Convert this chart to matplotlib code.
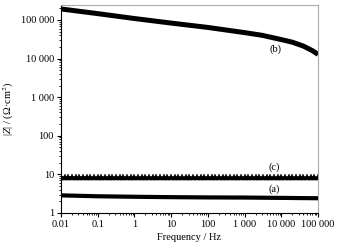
import numpy as np
import matplotlib
matplotlib.use("Agg")
import matplotlib.pyplot as plt
from matplotlib.ticker import FixedLocator, LogLocator, NullFormatter

plt.rcParams["font.family"] = ["Liberation Serif", "DejaVu Serif"]
plt.rcParams["mathtext.fontset"] = "stix"

# curve (b)
freq_b = [0.01, 0.1, 1, 10, 100, 1000, 3000, 10000, 20000, 40000, 70000, 100000]
z_b = [193000, 146000, 109000, 83000, 64000, 47000, 40000, 31000, 26500, 21000, 16000, 12800]

# curve (a)
freq_a = [0.01, 0.1, 1, 10, 100, 1000, 10000, 100000]
z_a = [2.85, 2.7, 2.62, 2.56, 2.52, 2.5, 2.45, 2.4]

# curve (c): 10 points per decade
freq_c = np.logspace(-2, 5, 71)
z_c = [8.4, 8.4, 8.4, 8.4, 8.35, 8.35, 8.35, 8.35, 8.3, 8.3,
       8.3, 8.3, 8.3, 8.3, 8.3, 8.3, 8.3, 8.3, 8.3, 8.3,
       8.3, 8.3, 8.3, 8.3, 8.3, 8.3, 8.3, 8.3, 8.3, 8.3,
       8.3, 8.3, 8.3, 8.3, 8.3, 8.3, 8.3, 8.3, 8.3, 8.3,
       8.3, 8.3, 8.3, 8.3, 8.3, 8.3, 8.3, 8.3, 8.3, 8.3,
       8.3, 8.3, 8.3, 8.3, 8.3, 8.3, 8.3, 8.3, 8.3, 8.3,
       8.3, 8.3, 8.3, 8.3, 8.3, 8.3, 8.3, 8.3, 8.3, 8.3,
       8.3]

x_ticks = [0.01, 0.1, 1, 10, 100, 1000, 10000, 100000]
x_labels = ["0.01", "0.1", "1", "10", "100", "1 000", "10 000", "100 000"]
y_ticks = [1, 10, 100, 1000, 10000, 100000]
y_labels = ["1", "10", "100", "1 000", "10 000", "100 000"]

fig = plt.figure(figsize=(3.48, 2.47), dpi=100)
ax = fig.add_axes([0.175, 0.138, 0.739, 0.842])

ax.plot(freq_b, z_b, color="black", lw=3.6, solid_capstyle="butt",
        solid_joinstyle="round")
ax.plot(freq_a, z_a, color="black", lw=3.0, solid_capstyle="butt")
ax.plot(freq_c, z_c, color="black", lw=1.6, marker="^", ms=3.8,
        markeredgewidth=0.3)

ax.set_xscale("log")
ax.set_yscale("log")
ax.set_xlim(0.01, 100000)
ax.set_ylim(1, 2.45e5)

ax.xaxis.set_major_locator(FixedLocator(x_ticks))
ax.set_xticklabels(x_labels)
ax.yaxis.set_major_locator(FixedLocator(y_ticks))
ax.set_yticklabels(y_labels)
for axis in (ax.xaxis, ax.yaxis):
    axis.set_minor_locator(LogLocator(base=10, subs=np.arange(2, 10), numticks=20))
    axis.set_minor_formatter(NullFormatter())

ax.tick_params(which="major", direction="out", length=3, width=0.8,
               labelsize=7.5, pad=2)
ax.tick_params(which="minor", direction="out", length=1.6, width=0.6)
ax.tick_params(top=False, right=False, which="both")

for side in ("top", "right"):
    ax.spines[side].set_color("#aaaaaa")
    ax.spines[side].set_linewidth(0.8)
for side in ("left", "bottom"):
    ax.spines[side].set_color("black")
    ax.spines[side].set_linewidth(0.8)

ax.set_xlabel("Frequency / Hz", fontsize=7.5, labelpad=3)
ax.set_ylabel("|$Z$| / (Ω·cm$^2$)", fontsize=7.5, labelpad=3)

ax.text(7000, 18000, "(b)", fontsize=7.5, ha="center", va="center")
ax.text(6500, 15.5, "(c)", fontsize=7.5, ha="center", va="center")
ax.text(6500, 4.0, "(a)", fontsize=7.5, ha="center", va="center")

fig.savefig("out.png", dpi=100)
